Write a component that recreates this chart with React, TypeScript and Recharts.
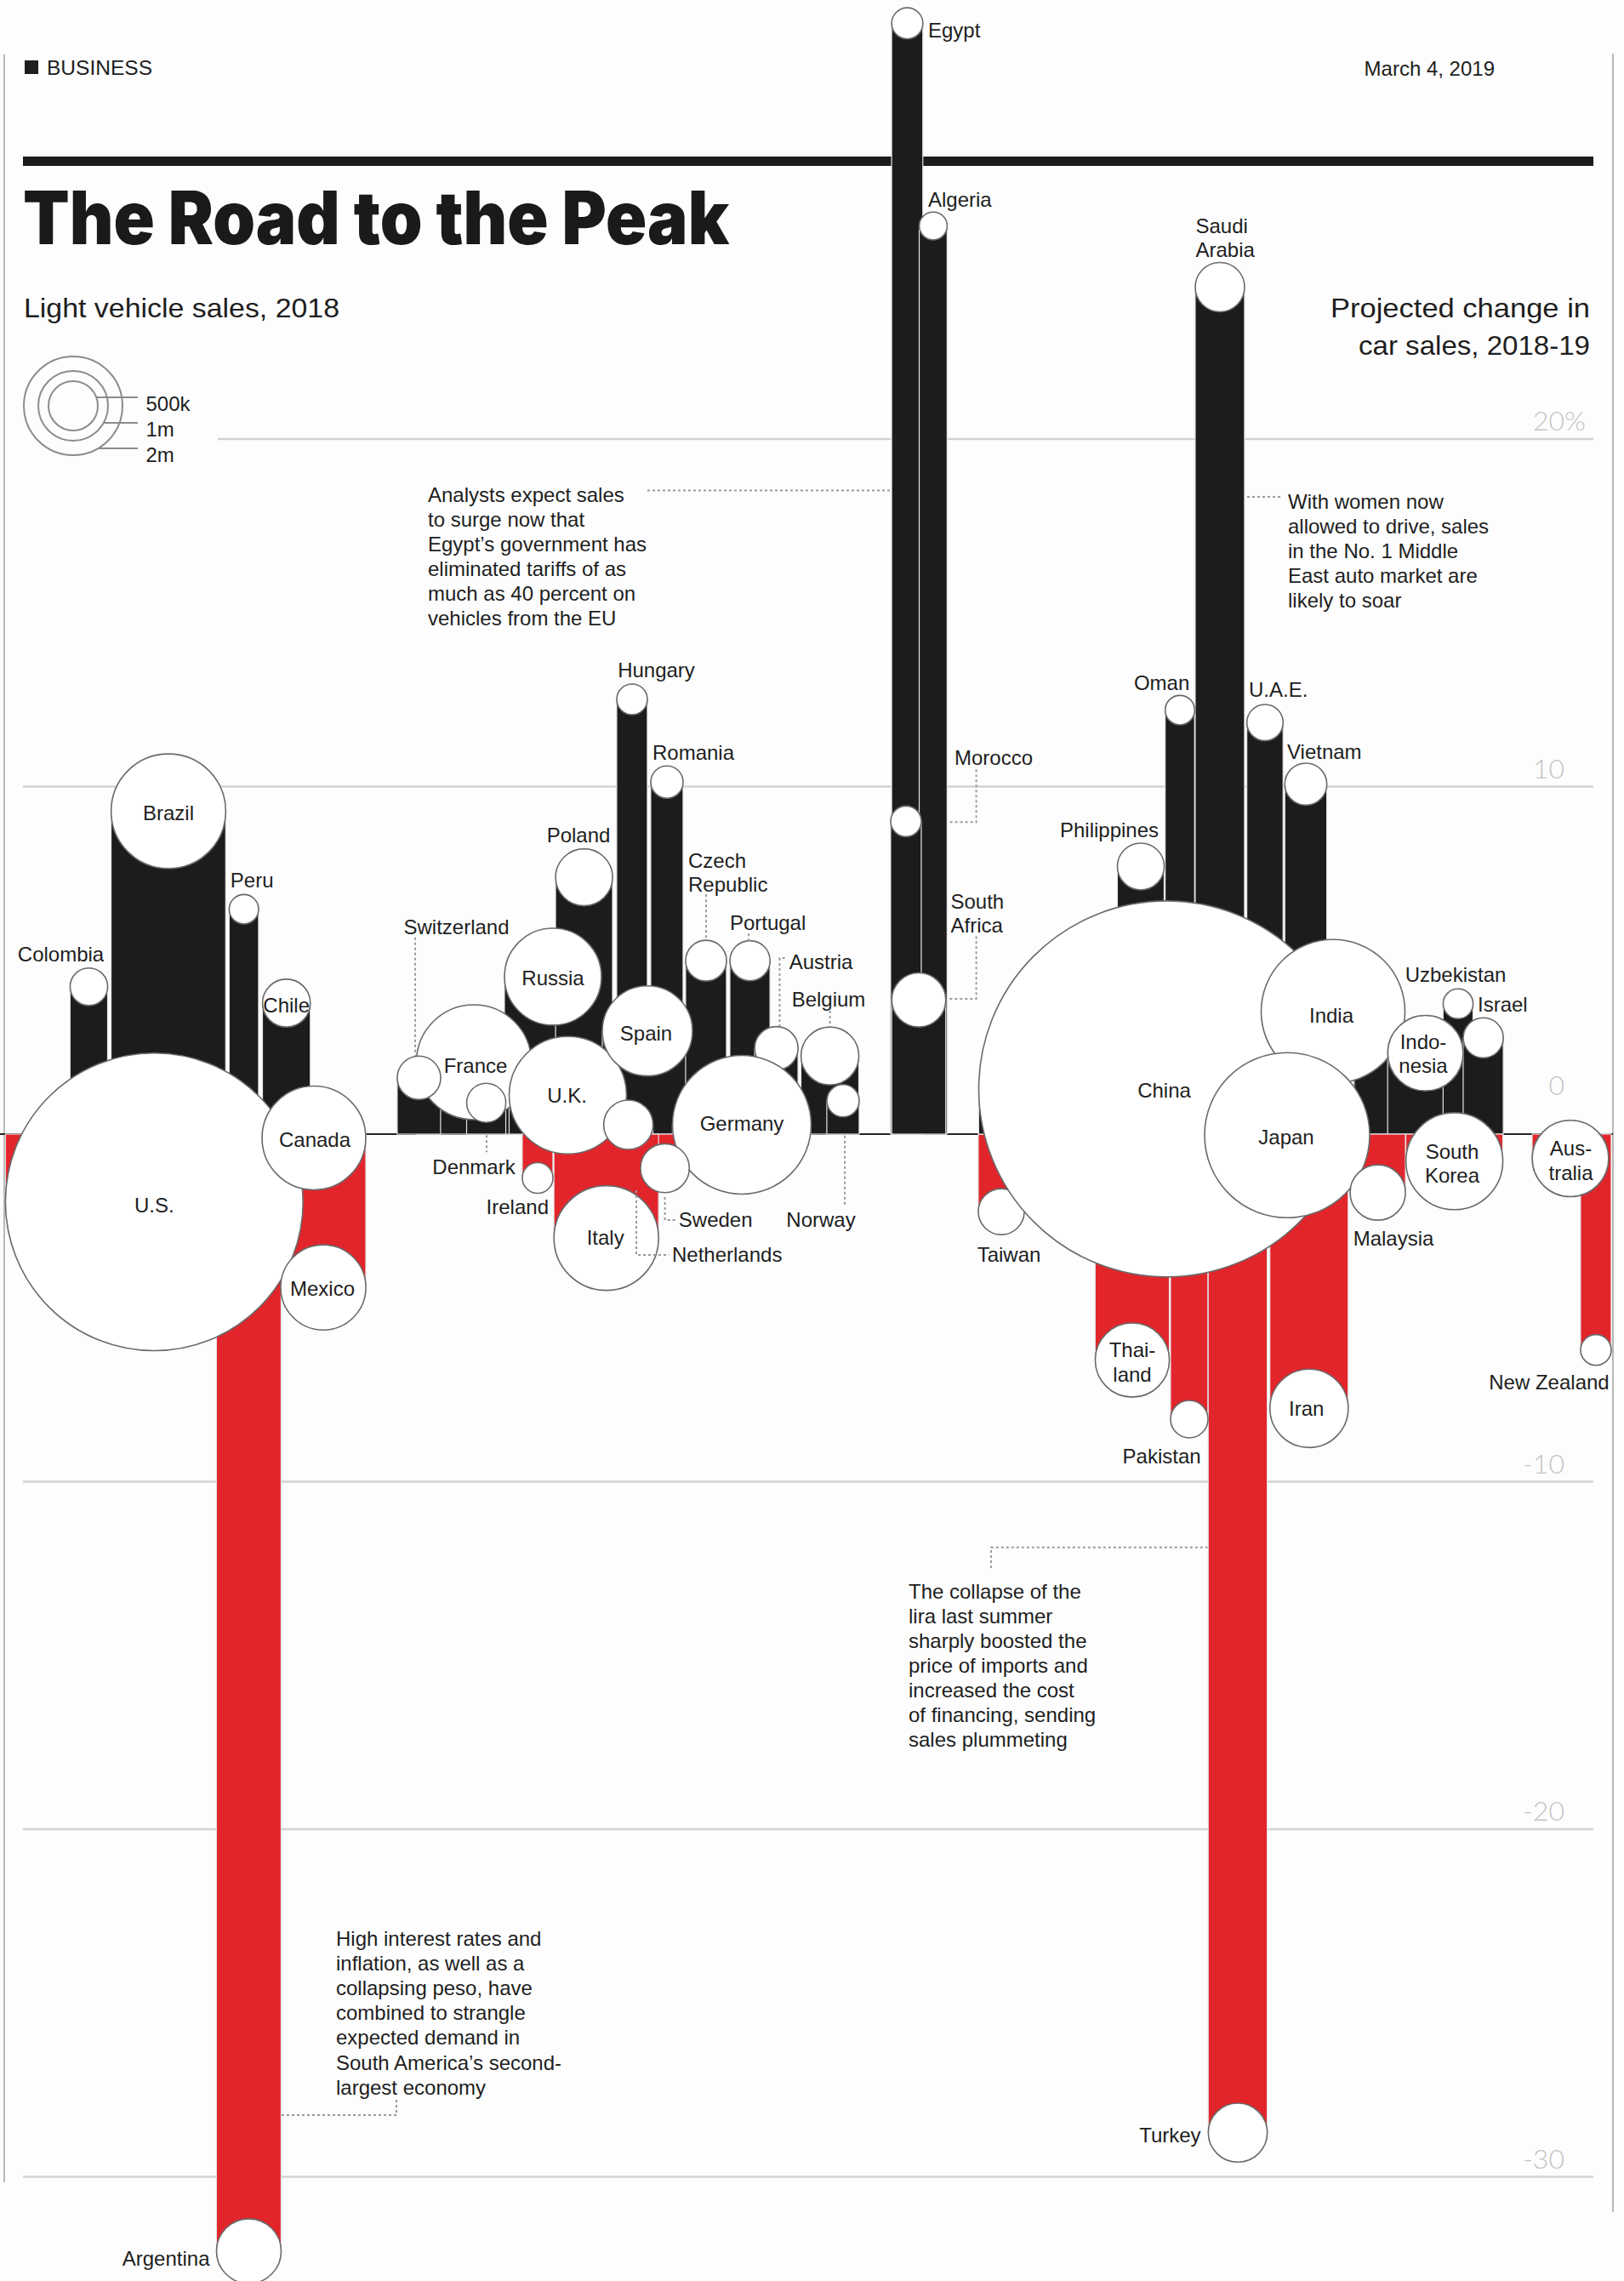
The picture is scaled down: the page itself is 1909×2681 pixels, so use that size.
import React from "react";
import { ComposedChart, XAxis, YAxis, ZAxis, Bar, Scatter, ReferenceLine } from "recharts";

const W = 1909;
const H = 2681;

// countries, in drawing order (later ones sit on top)
const countries = [
  "Brazil", "Colombia", "Peru", "Chile", "U.S.", "Canada", "Mexico", "Argentina",
  "France", "Russia", "Poland", "Hungary", "Romania", "Switzerland", "Denmark", "U.K.",
  "Spain", "Czech Republic", "Portugal", "Austria", "Belgium", "Norway", "Germany",
  "Netherlands", "Sweden", "Ireland", "Italy",
  "Egypt", "Algeria", "Morocco", "South Africa",
  "Taiwan", "Philippines", "Oman", "Saudi Arabia", "U.A.E.", "Vietnam", "China", "India",
  "Japan", "Indonesia", "Uzbekistan", "Israel", "South Korea", "Malaysia", "Thailand",
  "Pakistan", "Iran", "Turkey", "Australia", "New Zealand",
];

// horizontal slot of each country along the strip
const track = [
  198, 104.5, 286.7, 336.7, 181.3, 369, 380, 292.5,
  557, 650, 686.6, 743, 784, 492.5, 571.6, 667.5,
  761, 830, 881.6, 912.6, 975.6, 991, 872,
  738.6, 781.6, 632, 712.7,
  1066.5, 1097, 1065, 1080,
  1177, 1341, 1387, 1434, 1487, 1535, 1371.5, 1567,
  1513, 1675.6, 1714, 1743.6, 1709.6, 1619.6, 1331,
  1398, 1538.8, 1455, 1846, 1876,
];

// projected change in car sales 2018-19, %
const change = [
  9.29, 4.24, 6.47, 3.77, -1.95, -0.11, -4.41, -32.14,
  2.07, 4.53, 7.39, 12.51, 10.13, 1.62, 0.9, 1.12,
  2.97, 4.99, 4.99, 2.47, 2.25, 0.96, 0.27,
  0.27, -0.98, -1.26, -2.99,
  31.96, 26.13, 9.0, 3.86,
  -2.23, 7.7, 12.2, 24.37, 11.84, 10.07, 1.3, 3.53,
  -0.03, 2.33, 3.75, 2.77, -0.78, -1.68, -6.5,
  -8.2, -7.89, -28.73, -0.7, -6.21,
];

// light vehicle sales 2018, millions
const sales = [
  2.7, 0.29, 0.178, 0.47, 18.2, 2.21, 1.49, 0.86,
  2.71, 1.93, 0.667, 0.193, 0.215, 0.387, 0.315, 2.83,
  1.67, 0.343, 0.33, 0.387, 0.688, 0.215, 3.95,
  0.5, 0.49, 0.193, 2.25,
  0.2, 0.16, 0.193, 0.6,
  0.434, 0.45, 0.178, 0.5, 0.27, 0.363, 29.05, 4.25,
  5.6, 1.17, 0.184, 0.33, 1.93, 0.63, 1.13,
  0.288, 1.26, 0.716, 1.2, 0.193,
];

const ticks = [20, 10, 0, -10, -20, -30];
const tickText = ["20", "10", "0", "-10", "-20", "-30"];

const legendSizes = [2, 1, 0.5];
const legendText = ["2m", "1m", "500k"];

const rows = countries.map((country, i) => ({
  country,
  track: track[i],
  change: change[i],
  sales: sales[i],
}));

// scales / styling
const ZERO_Y = 1333;
const PX_PER_PCT = 40.85;
const Y_MAX = ZERO_Y / PX_PER_PCT;
const Y_MIN = -(H - ZERO_Y) / PX_PER_PCT;
const K = 41; // px per sqrt(million)
const Z_MAX = 30;
const radius = (s: number) => K * Math.sqrt(s);

const INK = "#1c1c1c";
const RED = "#e2252b";
const GRID = "#d2d2d2";
const DOTS = "#9a9a9a";
const FONT = "'Liberation Sans', Arial, sans-serif";
const TICK_X = 1839;

type Spot = {
  dx: number;
  dy: number;
  anchor?: "start" | "middle" | "end";
  lines?: string[];
  leader?: number[][];
};

const spots: Record<string, Spot> = {
  Colombia: { dx: -33, dy: -38.5 },
  Brazil: { dx: 0, dy: 2 },
  Peru: { dx: 9.5, dy: -34 },
  Chile: { dx: 0, dy: 3 },
  "U.S.": { dx: 0, dy: 4 },
  Canada: { dx: 1, dy: 2.5 },
  Mexico: { dx: -1, dy: 1 },
  Argentina: { dx: -46, dy: 9, anchor: "end" },
  Switzerland: { dx: 44, dy: -177, leader: [[-4.5, -165], [-4.5, -26]] },
  France: { dx: 2, dy: 4 },
  Denmark: { dx: -14.6, dy: 75, leader: [[0.4, 38], [0.4, 58]] },
  Russia: { dx: 0, dy: 2 },
  Poland: { dx: -6.6, dy: -50 },
  "U.K.": { dx: -1, dy: 0 },
  Spain: { dx: -1.5, dy: 3.4 },
  Hungary: { dx: 28.5, dy: -34 },
  Romania: { dx: 31, dy: -35 },
  "Czech Republic": { dx: -21, dy: -118, anchor: "start", lines: ["Czech", "Republic"], leader: [[0, -78], [0, -24]] },
  Portugal: { dx: 21, dy: -45, leader: [[-1.6, -32], [-1.6, -23]] },
  Austria: { dx: 52.4, dy: -101.5, leader: [[10, -106], [3.9, -106], [3.9, -26]] },
  Belgium: { dx: -1.6, dy: -66, leader: [[0, -53], [0, -35]] },
  Norway: { dx: -26, dy: 140, leader: [[2, 41], [2, 125]] },
  Germany: { dx: 0, dy: -1 },
  Netherlands: { dx: 51.4, dy: 153, anchor: "start", leader: [[9.4, 77], [9.4, 153], [48, 153]] },
  Sweden: { dx: 16.2, dy: 61, anchor: "start", leader: [[0, 34], [0, 61], [14, 61]] },
  Ireland: { dx: 13, dy: 34.5, anchor: "end" },
  Italy: { dx: -1, dy: -1 },
  Egypt: { dx: 24.5, dy: 8.4, anchor: "start" },
  Algeria: { dx: -6, dy: -30.5, anchor: "start" },
  Morocco: { dx: 103, dy: -74.5, leader: [[82.6, -61], [82.6, 1], [51.4, 1]] },
  "South Africa": { dx: 37.5, dy: -116, anchor: "start", lines: ["South", "Africa"], leader: [[67.6, -75], [67.6, -1.3], [36, -1.3]] },
  Taiwan: { dx: 9, dy: 50.7 },
  China: { dx: -3, dy: 2 },
  Philippines: { dx: -37, dy: -42.5 },
  Oman: { dx: -21.4, dy: -32 },
  "Saudi Arabia": { dx: -28.5, dy: -72, anchor: "start", lines: ["Saudi", "Arabia"] },
  "U.A.E.": { dx: -19, dy: -38.5, anchor: "start" },
  Vietnam: { dx: -22, dy: -38, anchor: "start" },
  India: { dx: -2, dy: 5 },
  Japan: { dx: -1, dy: 2 },
  Indonesia: { dx: -2.6, dy: -13.3, lines: ["Indo-", "nesia"] },
  Uzbekistan: { dx: -3, dy: -34 },
  Israel: { dx: -6.6, dy: -39, anchor: "start" },
  "South Korea": { dx: -2.6, dy: -11.5, lines: ["South", "Korea"] },
  Malaysia: { dx: 18.4, dy: 54 },
  Thailand: { dx: 0, dy: -11.6, lines: ["Thai-", "land"] },
  Pakistan: { dx: -32.4, dy: 44 },
  Iran: { dx: -3, dy: 0 },
  Turkey: { dx: -43.4, dy: 3, anchor: "end" },
  Australia: { dx: 0.5, dy: -11.6, lines: ["Aus-", "tralia"] },
  "New Zealand": { dx: -55, dy: 38 },
};

const notes = [
  {
    x: 503, y: 590, gap: 29,
    lines: ["Analysts expect sales", "to surge now that", "Egypt\u2019s government has", "eliminated tariffs of as", "much as 40 percent on", "vehicles from the EU"],
    leader: "M761,576.5 L1046,576.5",
  },
  {
    x: 1514, y: 597.5, gap: 29.2,
    lines: ["With women now", "allowed to drive, sales", "in the No. 1 Middle", "East auto market are", "likely to soar"],
    leader: "M1466,584 L1507,584",
  },
  {
    x: 1068, y: 1879, gap: 29,
    lines: ["The collapse of the", "lira last summer", "sharply boosted the", "price of imports and", "increased the cost", "of financing, sending", "sales plummeting"],
    leader: "M1165,1843 L1165,1818.8 L1420,1818.8",
  },
  {
    x: 395, y: 2286.5, gap: 29.2,
    lines: ["High interest rates and", "inflation, as well as a", "collapsing peso, have", "combined to strangle", "expected demand in", "South America\u2019s second-", "largest economy"],
    leader: "M331,2486 L466,2486 L466,2466",
  },
];

function Column(props: any) {
  const { x, y, width, height, payload } = props;
  if (x == null || y == null || !payload) return <g />;
  const cx = x + width / 2;
  const r = radius(payload.sales);
  const top = Math.min(y, y + height);
  const h = Math.abs(height);
  return (
    <rect
      x={cx - r}
      y={top}
      width={2 * r}
      height={h}
      fill={payload.change >= 0 ? INK : RED}
      stroke="#e4e4e4"
      strokeWidth={1.2}
    />
  );
}

function Bubble(props: any) {
  const { cx, cy, width, payload } = props;
  if (cx == null || cy == null) return <g />;
  const r = width ? width / 2 : radius(payload.sales);
  return <circle cx={cx} cy={cy} r={r} fill="#ffffff" stroke="#6a6a6a" strokeWidth={1.6} />;
}

function Tag(props: any) {
  const { cx, cy, payload } = props;
  if (cx == null || cy == null || !payload) return <g />;
  const spot = spots[payload.country];
  if (!spot) return <g />;
  const lines = spot.lines ?? [payload.country];
  const lead = spot.leader
    ? spot.leader.map((p, i) => `${i ? "L" : "M"}${cx + p[0]},${cy + p[1]}`).join(" ")
    : null;
  return (
    <g>
      {lead && <path d={lead} fill="none" stroke={DOTS} strokeWidth={2} strokeDasharray="3 3" />}
      {lines.map((ln, i) => (
        <text
          key={i}
          x={cx + spot.dx}
          y={cy + spot.dy + i * 28.5}
          dy="0.35em"
          textAnchor={spot.anchor ?? "middle"}
          fontFamily={FONT}
          fontSize={24}
          fill="#1e1e1e"
        >
          {ln}
        </text>
      ))}
    </g>
  );
}

const tickLabel = (i: number) => (p: any) => {
  const vb = (p && p.viewBox) || {};
  const y = (vb.y ?? 0) - (ticks[i] === 0 ? 46 : 10);
  return (
    <g>
      <text x={TICK_X} y={y} textAnchor="end" fontFamily="Lato, sans-serif" fontWeight={300} fontSize={32} fill="#c4c4c4">
        {tickText[i]}
      </text>
      {i === 0 && (
        <text x={TICK_X} y={y} textAnchor="start" fontFamily="Lato, sans-serif" fontWeight={300} fontSize={32} fill="#c4c4c4">
          %
        </text>
      )}
    </g>
  );
};

function Backdrop() {
  const lcx = 86;
  const lcy = 477;
  const leadY = [527, 497, 467];
  return (
    <svg width={W} height={H} style={{ position: "absolute", left: 0, top: 0 }}>
      <line x1={5} y1={64} x2={5} y2={2565} stroke="#b8b8b8" strokeWidth={2} />
      <line x1={1896} y1={63} x2={1896} y2={2600} stroke="#b8b8b8" strokeWidth={2} />

      <rect x={29} y={71} width={16} height={16} fill="#1e1e1e" />
      <text x={55} y={87.5} fontFamily={FONT} fontSize={23} textLength={124} lengthAdjust="spacingAndGlyphs" fill="#1e1e1e">
        BUSINESS
      </text>
      <text x={1757} y={89} textAnchor="end" fontFamily={FONT} fontSize={24} fill="#1e1e1e">
        March 4, 2019
      </text>

      <rect x={27} y={184} width={1846} height={11} fill="#1b1b1b" />

      <text x={27} y={287} fontFamily="Inter, 'Liberation Sans', sans-serif" fontWeight={900} fontSize={86}
        textLength={830} lengthAdjust="spacingAndGlyphs" fill="#1a1a1a">
        The Road to the Peak
      </text>
      <text x={28} y={373} fontFamily={FONT} fontSize={32} textLength={371} lengthAdjust="spacingAndGlyphs" fill="#1e1e1e">
        Light vehicle sales, 2018
      </text>
      <text x={1869} y={373} textAnchor="end" fontFamily={FONT} fontSize={32} textLength={305} lengthAdjust="spacingAndGlyphs" fill="#1e1e1e">
        Projected change in
      </text>
      <text x={1869} y={417} textAnchor="end" fontFamily={FONT} fontSize={32} textLength={272} lengthAdjust="spacingAndGlyphs" fill="#1e1e1e">
        car sales, 2018-19
      </text>

      {legendSizes.map((s, i) => {
        const r = radius(s);
        const ly = leadY[i];
        const dy = ly - lcy;
        const sx = lcx + Math.sqrt(Math.max(r * r - dy * dy, 0));
        return (
          <g key={i}>
            <circle cx={lcx} cy={lcy} r={r} fill="none" stroke="#8c8c8c" strokeWidth={2} />
            <line x1={sx} y1={ly} x2={162} y2={ly} stroke="#8c8c8c" strokeWidth={2} />
            <text x={171.5} y={ly + 8 + (2 - i) * 0 + 8} fontFamily={FONT} fontSize={24} fill="#1e1e1e">
              {legendText[i]}
            </text>
          </g>
        );
      })}

      {notes.map((n, k) => (
        <g key={k}>
          <path d={n.leader} fill="none" stroke={DOTS} strokeWidth={2} strokeDasharray="3 3" />
          {n.lines.map((ln, i) => (
            <text key={i} x={n.x} y={n.y + i * n.gap} fontFamily={FONT} fontSize={24} fill="#1e1e1e">
              {ln}
            </text>
          ))}
        </g>
      ))}
    </svg>
  );
}

export default function App() {
  return (
    <div style={{ position: "absolute", left: 0, top: 0, width: W, height: H, background: "#fdfdfd", overflow: "hidden" }}>
      <Backdrop />
      <div style={{ position: "absolute", left: 0, top: 0 }}>
        <ComposedChart width={W} height={H} data={rows} margin={{ top: 0, right: 0, bottom: 0, left: 0 }}>
          <XAxis type="number" dataKey="track" domain={[0, W]} hide />
          <YAxis type="number" domain={[Y_MIN, Y_MAX]} hide />
          <ZAxis type="number" dataKey="sales" domain={[0, Z_MAX]} range={[0, Math.PI * K * K * Z_MAX]} />

          {ticks.map((t, i) =>
            t === 0 ? (
              <ReferenceLine
                key={t}
                segment={[{ x: 0, y: 0 }, { x: 1896, y: 0 }]}
                stroke="#222"
                strokeWidth={2}
                ifOverflow="visible"
                label={tickLabel(i)}
                zIndex={-10}
              />
            ) : (
              <ReferenceLine
                key={t}
                segment={[{ x: t === 20 ? 256 : 27, y: t }, { x: 1873, y: t }]}
                stroke={GRID}
                strokeWidth={2.5}
                ifOverflow="visible"
                label={tickLabel(i)}
                zIndex={-10}
              />
            )
          )}

          <Bar dataKey="change" barSize={2} shape={Column} isAnimationActive={false} />
          <Scatter dataKey="change" shape={Bubble} isAnimationActive={false} />
          <Scatter dataKey="change" shape={Tag} isAnimationActive={false} />
        </ComposedChart>
      </div>
    </div>
  );
}
